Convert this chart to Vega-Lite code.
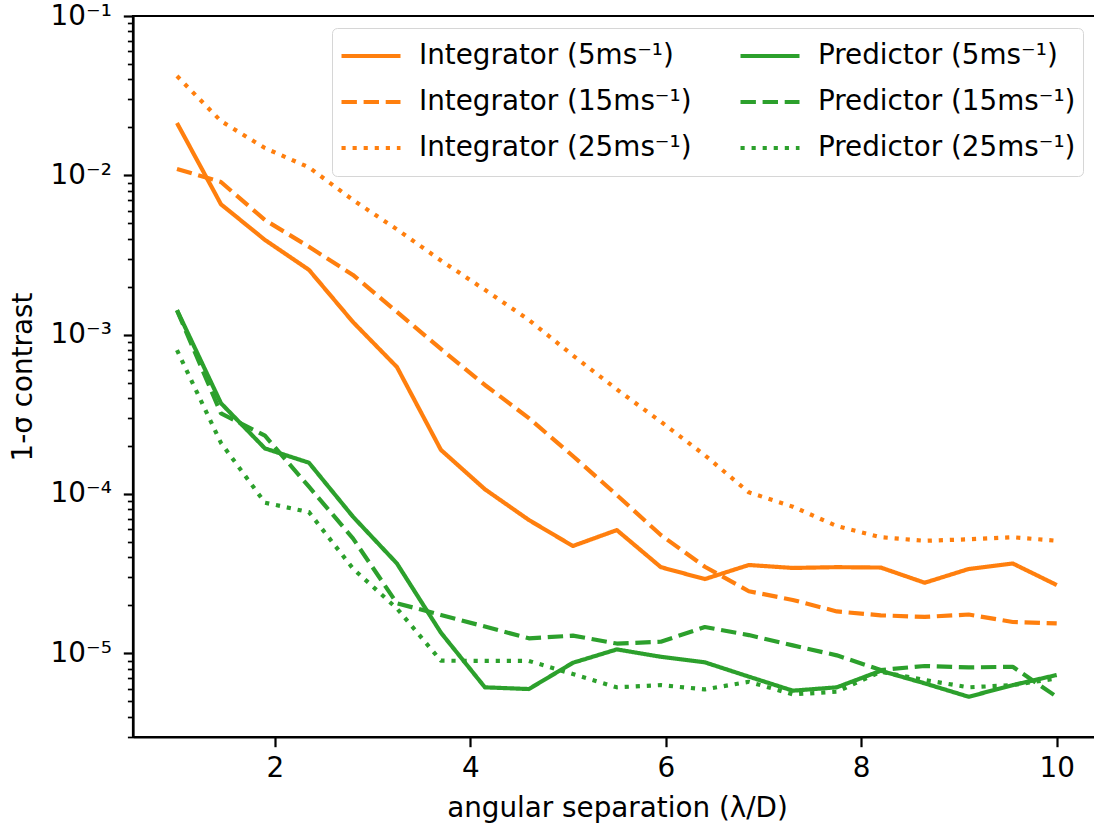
{
  "$schema": "https://vega.github.io/schema/vega-lite/v6.json",
  "width": 967.7,
  "height": 721,
  "autosize": {"type": "none"},
  "padding": {"left": 133, "top": 16, "right": -6.7, "bottom": 86},
  "background": "white",
  "config": {
    "font": "DejaVu Sans",
    "view": {"stroke": "black", "strokeWidth": 2.2},
    "axis": {
      "grid": false,
      "domainColor": "black",
      "domainWidth": 2.2,
      "tickColor": "black",
      "labelColor": "black",
      "labelFont": "DejaVu Sans",
      "labelFontSize": 27.8,
      "titleFont": "DejaVu Sans",
      "titleFontSize": 27.8,
      "titleFontWeight": "normal",
      "titleColor": "black",
      "labelOverlap": false
    }
  },
  "data": {
    "values": [
      {"x": 1, "series": "Integrator (5ms⁻¹)", "v": 0.0213},
      {"x": 1.45, "series": "Integrator (5ms⁻¹)", "v": 0.00658},
      {"x": 1.9, "series": "Integrator (5ms⁻¹)", "v": 0.00393},
      {"x": 2.35, "series": "Integrator (5ms⁻¹)", "v": 0.00255},
      {"x": 2.8, "series": "Integrator (5ms⁻¹)", "v": 0.0012},
      {"x": 3.25, "series": "Integrator (5ms⁻¹)", "v": 0.000626},
      {"x": 3.7, "series": "Integrator (5ms⁻¹)", "v": 0.000189},
      {"x": 4.15, "series": "Integrator (5ms⁻¹)", "v": 0.000107},
      {"x": 4.6, "series": "Integrator (5ms⁻¹)", "v": 0.0000686},
      {"x": 5.05, "series": "Integrator (5ms⁻¹)", "v": 0.0000471},
      {"x": 5.5, "series": "Integrator (5ms⁻¹)", "v": 0.0000593},
      {"x": 5.95, "series": "Integrator (5ms⁻¹)", "v": 0.0000347},
      {"x": 6.4, "series": "Integrator (5ms⁻¹)", "v": 0.0000292},
      {"x": 6.85, "series": "Integrator (5ms⁻¹)", "v": 0.0000358},
      {"x": 7.3, "series": "Integrator (5ms⁻¹)", "v": 0.0000343},
      {"x": 7.75, "series": "Integrator (5ms⁻¹)", "v": 0.0000347},
      {"x": 8.2, "series": "Integrator (5ms⁻¹)", "v": 0.0000345},
      {"x": 8.65, "series": "Integrator (5ms⁻¹)", "v": 0.0000277},
      {"x": 9.1, "series": "Integrator (5ms⁻¹)", "v": 0.0000338},
      {"x": 9.55, "series": "Integrator (5ms⁻¹)", "v": 0.0000366},
      {"x": 10, "series": "Integrator (5ms⁻¹)", "v": 0.0000268},

      {"x": 1, "series": "Integrator (15ms⁻¹)", "v": 0.01096},
      {"x": 1.45, "series": "Integrator (15ms⁻¹)", "v": 0.00908},
      {"x": 1.9, "series": "Integrator (15ms⁻¹)", "v": 0.00524},
      {"x": 2.35, "series": "Integrator (15ms⁻¹)", "v": 0.00356},
      {"x": 2.8, "series": "Integrator (15ms⁻¹)", "v": 0.00237},
      {"x": 3.25, "series": "Integrator (15ms⁻¹)", "v": 0.00139},
      {"x": 3.7, "series": "Integrator (15ms⁻¹)", "v": 0.000813},
      {"x": 4.15, "series": "Integrator (15ms⁻¹)", "v": 0.000483},
      {"x": 4.6, "series": "Integrator (15ms⁻¹)", "v": 0.000299},
      {"x": 5.05, "series": "Integrator (15ms⁻¹)", "v": 0.000173},
      {"x": 5.5, "series": "Integrator (15ms⁻¹)", "v": 0.0000984},
      {"x": 5.95, "series": "Integrator (15ms⁻¹)", "v": 0.0000552},
      {"x": 6.4, "series": "Integrator (15ms⁻¹)", "v": 0.0000349},
      {"x": 6.85, "series": "Integrator (15ms⁻¹)", "v": 0.0000245},
      {"x": 7.3, "series": "Integrator (15ms⁻¹)", "v": 0.0000216},
      {"x": 7.75, "series": "Integrator (15ms⁻¹)", "v": 0.0000183},
      {"x": 8.2, "series": "Integrator (15ms⁻¹)", "v": 0.0000173},
      {"x": 8.65, "series": "Integrator (15ms⁻¹)", "v": 0.0000169},
      {"x": 9.1, "series": "Integrator (15ms⁻¹)", "v": 0.0000175},
      {"x": 9.55, "series": "Integrator (15ms⁻¹)", "v": 0.0000157},
      {"x": 10, "series": "Integrator (15ms⁻¹)", "v": 0.0000154},

      {"x": 1, "series": "Integrator (25ms⁻¹)", "v": 0.042},
      {"x": 1.45, "series": "Integrator (25ms⁻¹)", "v": 0.0219},
      {"x": 1.9, "series": "Integrator (25ms⁻¹)", "v": 0.01482},
      {"x": 2.35, "series": "Integrator (25ms⁻¹)", "v": 0.01122},
      {"x": 2.8, "series": "Integrator (25ms⁻¹)", "v": 0.007},
      {"x": 3.25, "series": "Integrator (25ms⁻¹)", "v": 0.00458},
      {"x": 3.7, "series": "Integrator (25ms⁻¹)", "v": 0.00292},
      {"x": 4.15, "series": "Integrator (25ms⁻¹)", "v": 0.00191},
      {"x": 4.6, "series": "Integrator (25ms⁻¹)", "v": 0.001236},
      {"x": 5.05, "series": "Integrator (25ms⁻¹)", "v": 0.000741},
      {"x": 5.5, "series": "Integrator (25ms⁻¹)", "v": 0.000453},
      {"x": 5.95, "series": "Integrator (25ms⁻¹)", "v": 0.000284},
      {"x": 6.4, "series": "Integrator (25ms⁻¹)", "v": 0.000175},
      {"x": 6.85, "series": "Integrator (25ms⁻¹)", "v": 0.0001023},
      {"x": 7.3, "series": "Integrator (25ms⁻¹)", "v": 0.0000832},
      {"x": 7.75, "series": "Integrator (25ms⁻¹)", "v": 0.0000628},
      {"x": 8.2, "series": "Integrator (25ms⁻¹)", "v": 0.0000535},
      {"x": 8.65, "series": "Integrator (25ms⁻¹)", "v": 0.0000508},
      {"x": 9.1, "series": "Integrator (25ms⁻¹)", "v": 0.0000519},
      {"x": 9.55, "series": "Integrator (25ms⁻¹)", "v": 0.0000535},
      {"x": 10, "series": "Integrator (25ms⁻¹)", "v": 0.0000508},

      {"x": 1, "series": "Predictor (5ms⁻¹)", "v": 0.001426},
      {"x": 1.45, "series": "Predictor (5ms⁻¹)", "v": 0.000371},
      {"x": 1.9, "series": "Predictor (5ms⁻¹)", "v": 0.000193},
      {"x": 2.35, "series": "Predictor (5ms⁻¹)", "v": 0.000157},
      {"x": 2.8, "series": "Predictor (5ms⁻¹)", "v": 0.000072},
      {"x": 3.25, "series": "Predictor (5ms⁻¹)", "v": 0.0000366},
      {"x": 3.7, "series": "Predictor (5ms⁻¹)", "v": 0.00001346},
      {"x": 4.15, "series": "Predictor (5ms⁻¹)", "v": 0.00000611},
      {"x": 4.6, "series": "Predictor (5ms⁻¹)", "v": 0.00000596},
      {"x": 5.05, "series": "Predictor (5ms⁻¹)", "v": 0.00000871},
      {"x": 5.5, "series": "Predictor (5ms⁻¹)", "v": 0.00001057},
      {"x": 5.95, "series": "Predictor (5ms⁻¹)", "v": 0.0000095},
      {"x": 6.4, "series": "Predictor (5ms⁻¹)", "v": 0.00000877},
      {"x": 6.85, "series": "Predictor (5ms⁻¹)", "v": 0.00000713},
      {"x": 7.3, "series": "Predictor (5ms⁻¹)", "v": 0.00000582},
      {"x": 7.75, "series": "Predictor (5ms⁻¹)", "v": 0.00000611},
      {"x": 8.2, "series": "Predictor (5ms⁻¹)", "v": 0.00000776},
      {"x": 8.65, "series": "Predictor (5ms⁻¹)", "v": 0.00000647},
      {"x": 9.1, "series": "Predictor (5ms⁻¹)", "v": 0.00000533},
      {"x": 9.55, "series": "Predictor (5ms⁻¹)", "v": 0.00000631},
      {"x": 10, "series": "Predictor (5ms⁻¹)", "v": 0.0000073},

      {"x": 1, "series": "Predictor (15ms⁻¹)", "v": 0.00142},
      {"x": 1.45, "series": "Predictor (15ms⁻¹)", "v": 0.00032},
      {"x": 1.9, "series": "Predictor (15ms⁻¹)", "v": 0.000232},
      {"x": 2.35, "series": "Predictor (15ms⁻¹)", "v": 0.000111},
      {"x": 2.8, "series": "Predictor (15ms⁻¹)", "v": 0.0000526},
      {"x": 3.25, "series": "Predictor (15ms⁻¹)", "v": 0.0000206},
      {"x": 3.7, "series": "Predictor (15ms⁻¹)", "v": 0.0000174},
      {"x": 4.15, "series": "Predictor (15ms⁻¹)", "v": 0.0000147},
      {"x": 4.6, "series": "Predictor (15ms⁻¹)", "v": 0.0000124},
      {"x": 5.05, "series": "Predictor (15ms⁻¹)", "v": 0.0000129},
      {"x": 5.5, "series": "Predictor (15ms⁻¹)", "v": 0.0000115},
      {"x": 5.95, "series": "Predictor (15ms⁻¹)", "v": 0.0000118},
      {"x": 6.4, "series": "Predictor (15ms⁻¹)", "v": 0.0000146},
      {"x": 6.85, "series": "Predictor (15ms⁻¹)", "v": 0.000013},
      {"x": 7.3, "series": "Predictor (15ms⁻¹)", "v": 0.0000112},
      {"x": 7.75, "series": "Predictor (15ms⁻¹)", "v": 0.0000097},
      {"x": 8.2, "series": "Predictor (15ms⁻¹)", "v": 0.00000785},
      {"x": 8.65, "series": "Predictor (15ms⁻¹)", "v": 0.00000832},
      {"x": 9.1, "series": "Predictor (15ms⁻¹)", "v": 0.00000815},
      {"x": 9.55, "series": "Predictor (15ms⁻¹)", "v": 0.00000822},
      {"x": 10, "series": "Predictor (15ms⁻¹)", "v": 0.00000533},

      {"x": 1, "series": "Predictor (25ms⁻¹)", "v": 0.0008},
      {"x": 1.45, "series": "Predictor (25ms⁻¹)", "v": 0.000209},
      {"x": 1.9, "series": "Predictor (25ms⁻¹)", "v": 0.0000881},
      {"x": 2.35, "series": "Predictor (25ms⁻¹)", "v": 0.0000769},
      {"x": 2.8, "series": "Predictor (25ms⁻¹)", "v": 0.000034},
      {"x": 3.25, "series": "Predictor (25ms⁻¹)", "v": 0.0000191},
      {"x": 3.7, "series": "Predictor (25ms⁻¹)", "v": 0.00000898},
      {"x": 4.15, "series": "Predictor (25ms⁻¹)", "v": 0.00000895},
      {"x": 4.6, "series": "Predictor (25ms⁻¹)", "v": 0.00000895},
      {"x": 5.05, "series": "Predictor (25ms⁻¹)", "v": 0.0000074},
      {"x": 5.5, "series": "Predictor (25ms⁻¹)", "v": 0.00000611},
      {"x": 5.95, "series": "Predictor (25ms⁻¹)", "v": 0.00000631},
      {"x": 6.4, "series": "Predictor (25ms⁻¹)", "v": 0.00000593},
      {"x": 6.85, "series": "Predictor (25ms⁻¹)", "v": 0.00000662},
      {"x": 7.3, "series": "Predictor (25ms⁻¹)", "v": 0.00000552},
      {"x": 7.75, "series": "Predictor (25ms⁻¹)", "v": 0.00000573},
      {"x": 8.2, "series": "Predictor (25ms⁻¹)", "v": 0.00000766},
      {"x": 8.65, "series": "Predictor (25ms⁻¹)", "v": 0.00000679},
      {"x": 9.1, "series": "Predictor (25ms⁻¹)", "v": 0.00000611},
      {"x": 9.55, "series": "Predictor (25ms⁻¹)", "v": 0.00000631},
      {"x": 10, "series": "Predictor (25ms⁻¹)", "v": 0.00000695}
    ]
  },
  "mark": {"type": "line", "strokeWidth": 4.17, "strokeCap": "butt", "strokeJoin": "round", "clip": true},
  "encoding": {
    "x": {
      "field": "x",
      "type": "quantitative",
      "scale": {"domain": [0.55, 10.45], "nice": false, "zero": false},
      "axis": {
        "values": [2, 4, 6, 8, 10],
        "tickSize": 9.7,
        "tickWidth": 2.2,
        "labelPadding": 8,
        "title": "angular separation (λ/D)",
        "titleBaseline": "alphabetic",
        "titleX": 484,
        "titleY": 79,
        "titleAlign": "center"
      }
    },
    "y": {
      "field": "v",
      "type": "quantitative",
      "scale": {"type": "log", "domain": [0.00000298, 0.1], "nice": false},
      "axis": {
        "values": [0.000003, 0.000004, 0.000005, 0.000006, 0.000007, 0.000008, 0.000009,
                   0.00001, 0.00002, 0.00003, 0.00004, 0.00005, 0.00006, 0.00007, 0.00008, 0.00009,
                   0.0001, 0.0002, 0.0003, 0.0004, 0.0005, 0.0006, 0.0007, 0.0008, 0.0009,
                   0.001, 0.002, 0.003, 0.004, 0.005, 0.006, 0.007, 0.008, 0.009,
                   0.01, 0.02, 0.03, 0.04, 0.05, 0.06, 0.07, 0.08, 0.09, 0.1],
        "tickSize": {"condition": {"test": "abs(log(datum.value)/LN10 - round(log(datum.value)/LN10)) < 0.01", "value": 9.7}, "value": 5.6},
        "tickWidth": {"condition": {"test": "abs(log(datum.value)/LN10 - round(log(datum.value)/LN10)) < 0.01", "value": 2.2}, "value": 1.7},
        "labelExpr": "abs(log(datum.value)/LN10 - round(log(datum.value)/LN10)) < 0.01 ? '10⁻' + ['', '¹', '²', '³', '⁴', '⁵', '⁶'][-round(log(datum.value)/LN10)] : ''",
        "labelPadding": 12,
        "title": "1-σ contrast",
        "titleAngle": 270,
        "titleBaseline": "alphabetic",
        "titleX": -102,
        "titleY": 360.5,
        "titleAlign": "center"
      }
    },
    "color": {
      "field": "series",
      "type": "nominal",
      "scale": {
        "domain": ["Integrator (5ms⁻¹)", "Integrator (15ms⁻¹)", "Integrator (25ms⁻¹)", "Predictor (5ms⁻¹)", "Predictor (15ms⁻¹)", "Predictor (25ms⁻¹)"],
        "range": ["#ff7f0e", "#ff7f0e", "#ff7f0e", "#2ca02c", "#2ca02c", "#2ca02c"]
      },
      "legend": {
        "title": null,
        "orient": "none",
        "legendX": 199,
        "legendY": 12,
        "columns": 2,
        "symbolType": "stroke",
        "symbolSize": 3481,
        "symbolStrokeWidth": 4.17,
        "clipHeight": 42,
        "rowPadding": 4,
        "columnPadding": 46,
        "labelOffset": 16,
        "labelFont": "DejaVu Sans",
        "labelFontSize": 27.8,
        "labelColor": "black",
        "labelLimit": 500,
        "padding": 7,
        "fillColor": "white",
        "strokeColor": "#d6d6d6",
        "cornerRadius": 5
      }
    },
    "strokeDash": {
      "field": "series",
      "type": "nominal",
      "scale": {
        "domain": ["Integrator (5ms⁻¹)", "Integrator (15ms⁻¹)", "Integrator (25ms⁻¹)", "Predictor (5ms⁻¹)", "Predictor (15ms⁻¹)", "Predictor (25ms⁻¹)"],
        "range": [[1, 0], [15.4, 6.7], [4.17, 6.9], [1, 0], [15.4, 6.7], [4.17, 6.9]]
      },
      "legend": {
        "title": null,
        "orient": "none",
        "legendX": 199,
        "legendY": 12,
        "columns": 2,
        "symbolType": "stroke",
        "symbolSize": 3481,
        "symbolStrokeWidth": 4.17,
        "clipHeight": 42,
        "rowPadding": 4,
        "columnPadding": 46,
        "labelOffset": 16,
        "labelFont": "DejaVu Sans",
        "labelFontSize": 27.8,
        "labelColor": "black",
        "labelLimit": 500,
        "padding": 7,
        "fillColor": "white",
        "strokeColor": "#d6d6d6",
        "cornerRadius": 5
      }
    }
  }
}
